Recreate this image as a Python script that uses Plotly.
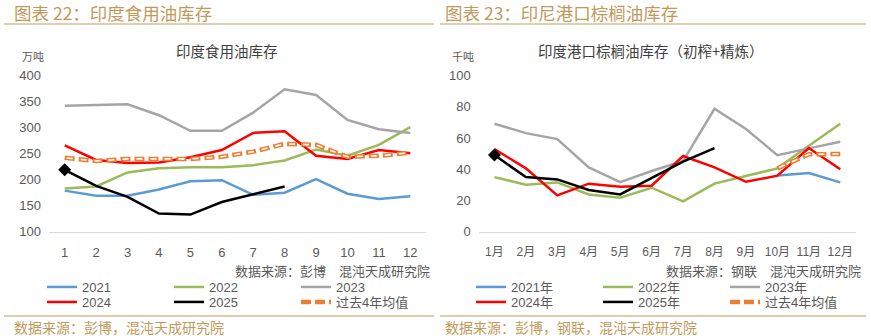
import plotly.graph_objects as go

W, H = 871, 336

# ---------------- data ----------------
months_left = [1, 2, 3, 4, 5, 6, 7, 8, 9, 10, 11, 12]
left_tick_labels = [str(m) for m in months_left]
left_2021 = [179, 169, 169, 181, 197, 199, 171, 175, 201, 173, 163, 168]
left_2022 = [183, 187, 214, 222, 224, 224, 228, 237, 258, 246, 267, 301]
left_2023 = [342, 343, 345, 324, 294, 294, 329, 374, 363, 315, 297, 290]
left_2024 = [266, 238, 232, 233, 243, 257, 290, 293, 246, 240, 257, 251]
left_2025 = [219, 188, 167, 135, 133, 157, 172, 187]
left_avg = [242, 236, 240, 240, 240, 244, 254, 269, 267, 244, 246, 252]

months_right = [1, 2, 3, 4, 5, 6, 7, 8, 9, 10, 11, 12]
right_tick_labels = [f"{m}月" for m in months_right]
right_2021 = [None, None, None, None, None, None, None, None, None, 36.0, 37.6, 31.6]
right_2022 = [35.0, 30.1, 31.6, 23.9, 21.8, 28.2, 19.4, 30.8, 35.7, 40.6, 55.1, 69.2]
right_2023 = [69.2, 63.2, 59.4, 41.2, 31.8, 38.9, 45.3, 78.8, 65.8, 49.1, 53.4, 57.7]
right_2024 = [53.0, 40.6, 23.3, 30.8, 28.8, 29.5, 48.5, 41.2, 32.0, 35.9, 53.6, 40.0]
right_2025 = [49.1, 35.0, 33.5, 26.7, 23.9, 34.6, 44.9, 53.6]
right_avg = [None, None, None, None, None, None, None, None, None, 40.6, 49.6, 49.8]

# ---------------- styles ----------------
C_BLUE = "#5b9bd5"
C_GREEN = "#9bbb59"
C_GRAY = "#a5a5a5"
C_RED = "#ff0000"
C_BLACK = "#000000"
C_ORANGE = "#ed7d31"
GOLD = "#c19a5b"
LINEGOLD = "#d6bf93"
TXT = "#595959"
FONT = "Noto Sans CJK SC"

def px(x):
    return x / W

def py(y):
    return 1 - y / H

fig = go.Figure()

def add_panel(xs, series, avg, xaxis, yaxis, suffix, lg1, lg2):
    names = [f"2021{suffix}", f"2022{suffix}", f"2023{suffix}", f"2024{suffix}", f"2025{suffix}"]
    colors = [C_BLUE, C_GREEN, C_GRAY, C_RED, C_BLACK]
    legs = [lg1, lg1, lg1, lg2, lg2]
    for i in range(4):
        vals = series[i]
        fig.add_trace(go.Scatter(
            x=xs[:len(vals)], y=vals, mode="lines", name=names[i],
            line=dict(color=colors[i], width=2.5),
            xaxis=xaxis, yaxis=yaxis, legend=legs[i], connectgaps=False,
            hoverinfo="skip"))
    vals = series[4]
    fig.add_trace(go.Scatter(
        x=xs[:len(vals)], y=vals, mode="lines", name=names[4],
        line=dict(color=C_BLACK, width=2.5),
        xaxis=xaxis, yaxis=yaxis, legend=lg2, hoverinfo="skip"))
    fig.add_trace(go.Scatter(
        x=xs, y=avg, mode="lines", name="过去4年均值",
        line=dict(color=C_ORANGE, width=4.5, dash="10px,4px"),
        xaxis=xaxis, yaxis=yaxis, legend=lg2, hoverinfo="skip"))
    fig.add_trace(go.Scatter(
        x=xs, y=avg, mode="lines", showlegend=False,
        line=dict(color="#ffffff", width=1.6, dash="0px,2px,6px,6px"),
        xaxis=xaxis, yaxis=yaxis, hoverinfo="skip"))
    fig.add_trace(go.Scatter(
        x=xs[:1], y=vals[:1], mode="markers", showlegend=False,
        marker=dict(symbol="diamond", size=10, color=C_BLACK),
        xaxis=xaxis, yaxis=yaxis, hoverinfo="skip"))

add_panel(months_left, [left_2021, left_2022, left_2023, left_2024, left_2025],
          left_avg, "x", "y", "", "legend", "legend2")
add_panel(months_right, [right_2021, right_2022, right_2023, right_2024, right_2025],
          right_avg, "x2", "y2", "年", "legend3", "legend4")

ydom = [py(231.7), py(75.7)]
tickfont = dict(family="Liberation Sans, Arial", size=13, color=TXT)

fig.update_layout(
    width=W, height=H, margin=dict(l=0, r=0, t=0, b=0, autoexpand=False),
    paper_bgcolor="#ffffff", plot_bgcolor="#ffffff",
    font=dict(family=FONT, color=TXT),
    xaxis=dict(domain=[px(49), px(426)], range=[0.5, 12.5], tickmode="array",
               tickvals=months_left, ticktext=left_tick_labels, tickangle=0,
               showline=True, linecolor="#d9d9d9", linewidth=1, showgrid=False,
               zeroline=False, ticks="", tickfont=tickfont, ticklabelstandoff=9,
               anchor="y"),
    yaxis=dict(domain=ydom, range=[100, 400], dtick=50, tick0=100, showgrid=False,
               zeroline=False, ticks="", tickfont=tickfont,
               showline=False, ticklabelstandoff=7, anchor="x"),
    xaxis2=dict(domain=[px(478.7), px(856)], range=[0.5, 12.5], tickmode="array",
                tickvals=months_right, ticktext=right_tick_labels, tickangle=0,
                showline=True, linecolor="#d9d9d9", linewidth=1, showgrid=False,
                zeroline=False, ticks="", ticklabelstandoff=9, anchor="y2",
                tickfont=dict(family="Liberation Sans, " + FONT, size=12, color=TXT)),
    yaxis2=dict(domain=ydom, range=[0, 100], dtick=20, tick0=0, showgrid=False,
                zeroline=False, ticks="", tickfont=tickfont,
                showline=False, ticklabelstandoff=7, anchor="x2"),
    showlegend=True,
)

leg_common = dict(orientation="h", xanchor="left", yanchor="middle",
                  entrywidth=82, entrywidthmode="pixels", bgcolor="rgba(0,0,0,0)",
                  font=dict(family="Liberation Sans, " + FONT, size=13, color=TXT),
                  itemclick=False, itemdoubleclick=False, tracegroupgap=0)
fig.update_layout(
    legend=dict(x=px(42), y=py(287), **leg_common),
    legend2=dict(x=px(42), y=py(302), **leg_common),
    legend3=dict(x=px(471), y=py(287), **leg_common),
    legend4=dict(x=px(471), y=py(302), **leg_common),
)

ann = []
def text(x, y, s, size, color, xanchor="left"):
    ann.append(dict(x=px(x), y=py(y), xref="paper", yref="paper", text=s,
                    showarrow=False, xanchor=xanchor, yanchor="middle",
                    font=dict(family=FONT, size=size, color=color)))

text(12, 13, "图表 22：印度食用油库存", 17.5, GOLD)
text(443, 13, "图表 23：印尼港口棕榈油库存", 17.5, GOLD)
text(227, 50, "印度食用油库存", 14.5, "#404040", "center")
text(651, 50, "印度港口棕榈油库存（初榨+精炼）", 14.5, "#404040", "center")
text(33, 56, "万吨", 11, TXT, "center")
text(463, 56, "千吨", 11, TXT, "center")
text(432, 270, "数据来源：彭博　混沌天成研究院", 13, TXT, "right")
text(863, 270, "数据来源：钢联　混沌天成研究院", 13, TXT, "right")
text(12, 326.5, "数据来源：彭博，混沌天成研究院", 14, GOLD)
text(443, 326.5, "数据来源：彭博，钢联，混沌天成研究院", 14, GOLD)

shapes = []
for x0, x1 in [(4, 434), (440, 866)]:
    shapes.append(dict(type="line", xref="paper", yref="paper", x0=px(x0), x1=px(x1),
                       y0=py(24), y1=py(24), line=dict(color=LINEGOLD, width=1.5)))
    shapes.append(dict(type="line", xref="paper", yref="paper", x0=px(x0), x1=px(x1),
                       y0=py(316), y1=py(316), line=dict(color=LINEGOLD, width=1.5)))

fig.update_layout(annotations=ann, shapes=shapes)

fig.write_html("out.html")
